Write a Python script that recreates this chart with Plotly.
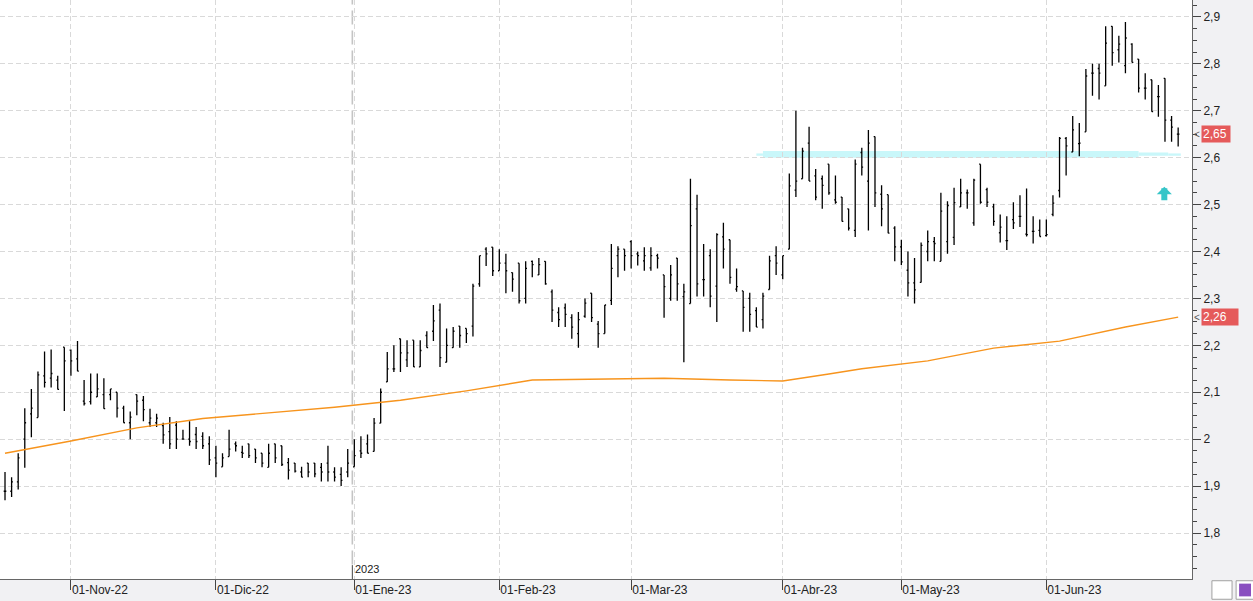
import pandas as pd
import plotly.graph_objects as go

# ---- categories (trading days) ----
holidays = ["2022-12-26", "2023-04-07", "2023-04-10", "2023-05-01"]
days = pd.bdate_range("2022-10-18", "2023-06-29")
days = [d.strftime("%Y-%m-%d") for d in days if d.strftime("%Y-%m-%d") not in holidays]

# ---- OHLC values ----
opens = [1.889,1.889,1.909,2.000,2.054,2.046,2.135,2.130,2.126,2.196,
         2.190,2.171,2.081,2.080,2.090,2.095,2.095,2.100,2.066,2.035,
         2.095,2.083,2.035,2.035,2.029,2.016,2.030,2.000,2.000,2.010,
         2.006,1.990,1.960,1.941,1.963,1.990,1.972,1.990,1.979,1.970,
         1.940,1.990,1.986,1.950,1.949,1.930,1.949,1.949,1.940,1.949,
         1.930,1.925,1.930,1.941,1.975,1.990,1.974,2.034,2.122,2.150,
         2.214,2.169,2.211,2.154,2.221,2.230,2.275,2.164,2.195,2.241,
         2.236,2.241,2.331,2.405,2.409,2.359,2.375,2.355,2.375,2.300,
         2.379,2.350,2.379,2.314,2.270,2.280,2.259,2.225,2.262,2.311,
         2.245,2.225,2.296,2.391,2.405,2.421,2.395,2.380,2.365,2.391,
         2.350,2.300,2.386,2.304,2.289,2.491,2.340,2.391,2.326,2.431,
         2.425,2.320,2.316,2.300,2.274,2.255,2.319,2.391,2.350,2.405,
         2.531,2.555,2.631,2.561,2.555,2.586,2.510,2.516,2.491,2.445,
         2.611,2.550,2.645,2.522,2.521,2.450,2.410,2.360,2.333,2.334,
         2.400,2.421,2.379,2.421,2.430,2.495,2.525,2.461,2.586,2.532,
         2.495,2.440,2.423,2.468,2.475,2.437,2.443,2.445,2.434,2.479,
         2.530,2.641,2.612,2.630,2.655,2.780,2.790,2.753,2.880,2.830,
         2.796,2.842,2.810,2.748,2.766,2.730,2.769,2.680,2.650]
highs = [1.930,1.919,1.970,2.066,2.107,2.144,2.187,2.191,2.135,2.196,
         2.191,2.209,2.126,2.140,2.140,2.130,2.107,2.100,2.071,2.059,
         2.095,2.092,2.065,2.054,2.035,2.047,2.038,2.020,2.038,2.026,
         2.015,2.006,1.986,1.970,2.020,1.995,1.986,1.990,1.979,1.970,
         1.990,1.990,1.986,1.960,1.949,1.941,1.949,1.949,1.949,1.986,
         1.940,1.940,1.979,2.000,2.006,2.010,2.045,2.108,2.186,2.200,
         2.214,2.211,2.211,2.211,2.230,2.286,2.289,2.236,2.239,2.241,
         2.236,2.331,2.391,2.409,2.409,2.405,2.395,2.355,2.375,2.379,
         2.381,2.386,2.379,2.319,2.281,2.289,2.266,2.271,2.300,2.311,
         2.252,2.286,2.416,2.411,2.405,2.424,2.400,2.409,2.409,2.395,
         2.350,2.371,2.386,2.331,2.555,2.521,2.416,2.405,2.439,2.461,
         2.425,2.364,2.316,2.312,2.281,2.312,2.391,2.411,2.391,2.566,
         2.700,2.621,2.666,2.576,2.562,2.586,2.562,2.516,2.491,2.596,
         2.621,2.659,2.645,2.541,2.521,2.454,2.425,2.400,2.386,2.419,
         2.445,2.431,2.525,2.507,2.536,2.555,2.532,2.555,2.586,2.536,
         2.502,2.479,2.475,2.505,2.520,2.534,2.475,2.468,2.468,2.520,
         2.644,2.644,2.689,2.674,2.789,2.800,2.800,2.880,2.880,2.860,
         2.889,2.844,2.810,2.780,2.766,2.755,2.769,2.689,2.664]
lows = [1.870,1.877,1.893,1.939,2.004,2.046,2.110,2.110,2.106,2.060,
        2.135,2.145,2.072,2.074,2.090,2.065,2.083,2.046,2.035,2.000,
        2.051,2.038,2.026,2.026,1.990,1.979,1.979,2.000,1.986,1.979,
        1.979,1.945,1.919,1.941,1.963,1.974,1.960,1.960,1.949,1.940,
        1.940,1.949,1.943,1.914,1.929,1.919,1.919,1.919,1.910,1.910,
        1.910,1.900,1.919,1.941,1.960,1.970,1.974,2.034,2.122,2.143,
        2.143,2.154,2.154,2.154,2.195,2.209,2.154,2.164,2.195,2.195,
        2.205,2.219,2.325,2.369,2.348,2.359,2.311,2.314,2.289,2.289,
        2.345,2.350,2.329,2.250,2.239,2.239,2.214,2.195,2.259,2.250,
        2.195,2.225,2.286,2.345,2.359,2.364,2.370,2.359,2.359,2.364,
        2.259,2.295,2.295,2.164,2.289,2.304,2.304,2.281,2.250,2.364,
        2.331,2.314,2.229,2.229,2.239,2.236,2.319,2.350,2.341,2.405,
        2.516,2.555,2.550,2.509,2.491,2.521,2.502,2.464,2.445,2.431,
        2.562,2.445,2.495,2.454,2.439,2.379,2.371,2.304,2.289,2.334,
        2.379,2.379,2.379,2.395,2.414,2.495,2.491,2.455,2.502,2.495,
        2.455,2.419,2.403,2.448,2.452,2.432,2.417,2.432,2.432,2.475,
        2.515,2.562,2.612,2.603,2.655,2.732,2.724,2.753,2.796,2.803,
        2.780,2.803,2.739,2.724,2.698,2.687,2.634,2.634,2.624]
closes = [1.889,1.909,1.960,2.035,2.066,2.137,2.121,2.140,2.106,2.167,
          2.167,2.145,2.076,2.100,2.107,2.065,2.107,2.066,2.035,2.047,
          2.081,2.063,2.045,2.045,2.009,1.990,2.000,2.000,1.995,1.995,
          1.986,1.956,1.949,1.960,1.979,1.986,1.970,1.965,1.960,1.949,
          1.970,1.960,1.946,1.934,1.932,1.919,1.930,1.926,1.930,1.930,
          1.919,1.912,1.949,1.965,1.970,1.970,2.034,2.100,2.150,2.150,
          2.184,2.184,2.154,2.189,2.195,2.252,2.174,2.200,2.230,2.221,
          2.225,2.326,2.391,2.395,2.359,2.375,2.359,2.341,2.295,2.364,
          2.372,2.372,2.331,2.275,2.255,2.266,2.239,2.255,2.290,2.259,
          2.225,2.286,2.364,2.405,2.391,2.391,2.391,2.391,2.391,2.386,
          2.325,2.350,2.331,2.314,2.455,2.331,2.340,2.305,2.436,2.405,
          2.345,2.325,2.281,2.266,2.239,2.305,2.380,2.375,2.391,2.540,
          2.550,2.614,2.550,2.516,2.541,2.525,2.505,2.464,2.450,2.586,
          2.580,2.631,2.525,2.491,2.439,2.410,2.378,2.333,2.318,2.413,
          2.421,2.417,2.486,2.498,2.504,2.525,2.525,2.552,2.505,2.505,
          2.464,2.452,2.423,2.461,2.475,2.436,2.443,2.432,2.436,2.503,
          2.641,2.625,2.659,2.631,2.774,2.780,2.780,2.844,2.824,2.842,
          2.855,2.803,2.748,2.748,2.698,2.730,2.680,2.665,2.650]

# ---- long moving average (sampled at bar indices) ----
ma_idx = [0, 10, 20, 30, 40, 50, 60, 70, 80, 90, 100, 110, 118, 125, 130, 140, 150, 160, 170, 178]
ma_vals = [1.970, 1.996, 2.024, 2.044, 2.056, 2.068, 2.083, 2.103, 2.126, 2.128,
           2.130, 2.126, 2.124, 2.139, 2.150, 2.167, 2.194, 2.209, 2.239, 2.260]

# ---- axis ticks ----
month_ticks = ["2022-11-01", "2022-12-01", "2023-01-02", "2023-02-01",
               "2023-03-01", "2023-04-03", "2023-05-02", "2023-06-01"]
month_labels = ["01-Nov-22", "01-Dic-22", "01-Ene-23", "01-Feb-23",
                "01-Mar-23", "01-Abr-23", "01-May-23", "01-Jun-23"]

last_price = 2.65
ma_last = 2.26
support_level = 2.607

FONT = "Liberation Sans, Arial, sans-serif"
GRID = "#d9d9d9"

fig = go.Figure()
fig.add_trace(go.Ohlc(
    x=days, open=opens, high=highs, low=lows, close=closes,
    increasing=dict(line=dict(color="black", width=1.3)),
    decreasing=dict(line=dict(color="black", width=1.3)),
    tickwidth=0.2, showlegend=False, hoverinfo="skip"))
fig.add_trace(go.Scatter(
    x=[days[i] for i in ma_idx], y=ma_vals, mode="lines",
    line=dict(color="#f7941d", width=1.4), showlegend=False, hoverinfo="skip"))

ymin, ymax = 1.702, 2.936

shapes = []
# support band
band = "#c9f7fa"
shapes.append(dict(type="rect", xref="x", yref="y", x0=114.0, x1=115.0,
                   y0=support_level - 0.003, y1=support_level + 0.002,
                   fillcolor=band, line=dict(width=0), layer="below"))
shapes.append(dict(type="rect", xref="x", yref="y", x0=115.0, x1=172.0,
                   y0=support_level - 0.007, y1=support_level + 0.007,
                   fillcolor=band, line=dict(width=0), layer="below"))
shapes.append(dict(type="rect", xref="x", yref="y", x0=172.0, x1=176.5,
                   y0=support_level - 0.003, y1=support_level + 0.004,
                   fillcolor=band, line=dict(width=0), layer="below"))
shapes.append(dict(type="rect", xref="x", yref="y", x0=176.5, x1=178.4,
                   y0=support_level - 0.003, y1=support_level + 0.002,
                   fillcolor=band, line=dict(width=0), layer="below"))
# year separator
jan_idx = days.index("2023-01-02")
shapes.append(dict(type="line", xref="x", yref="paper", x0=jan_idx - 0.3, x1=jan_idx - 0.3,
                   y0=0.025, y1=1, line=dict(color="#c4c4c4", width=1.6, dash="14px,6px"),
                   layer="below"))
shapes.append(dict(type="line", xref="x", yref="paper", x0=jan_idx - 0.3, x1=jan_idx - 0.3,
                   y0=0, y1=0.024, line=dict(color="#444", width=1)))
# bottom-right icons
shapes.append(dict(type="rect", xref="paper", yref="paper", x0=1.0167, x1=1.0336,
                   y0=-0.035, y1=-0.003, fillcolor="#ffffff", line=dict(color="#a0a0a0", width=1)))
shapes.append(dict(type="rect", xref="paper", yref="paper", x0=1.037, x1=1.0516,
                   y0=-0.035, y1=-0.003, fillcolor="#ffffff", line=dict(color="#a0a0a0", width=1)))
shapes.append(dict(type="rect", xref="paper", yref="paper", x0=1.0395, x1=1.0495,
                   y0=-0.030, y1=-0.008, fillcolor="#8a4fc0", line=dict(width=0)))

annotations = []
annotations.append(dict(text="2023", xref="x", yref="paper", x=jan_idx - 0.3, y=0.003,
                        xanchor="left", yanchor="bottom", showarrow=False, xshift=1,
                        font=dict(family=FONT, size=11, color="#222")))
for val, w in [(last_price, 26), (ma_last, 34)]:
    annotations.append(dict(text=f"{val:.2f}".replace(".", ","), xref="paper", yref="y",
                            x=1, y=val, xanchor="left", yanchor="middle", xshift=9,
                            showarrow=False, bgcolor="#e55a5a", width=w, align="left",
                            borderpad=1, font=dict(family=FONT, size=12, color="white")))
    annotations.append(dict(text="<", xref="paper", yref="y", x=1, y=val, xanchor="left",
                            yanchor="middle", xshift=0, showarrow=False,
                            font=dict(family=FONT, size=10, color="#555")))
# up arrow
annotations.append(dict(text="", xref="x", yref="y", x=175.9, y=2.538, showarrow=True,
                        ax=0, ay=15, arrowhead=1, arrowsize=0.42, arrowwidth=6,
                        arrowcolor="#36c5c8"))

fig.update_layout(
    width=1253, height=601, autosize=False,
    margin=dict(l=0, r=61, t=0, b=22),
    paper_bgcolor="#f1f1f3", plot_bgcolor="#ffffff",
    separators=", ",
    shapes=shapes, annotations=annotations,
    font=dict(family=FONT, size=12, color="#222"),
    xaxis=dict(type="category", range=[-0.76, 180.1], tickvals=month_ticks,
               ticktext=month_labels, ticks="outside", ticklen=10, tickcolor="#444",
               showgrid=True, gridcolor=GRID, griddash="5px,3px", gridwidth=1,
               showline=True, linecolor="#666", linewidth=1,
               ticklabelposition="outside right", rangeslider=dict(visible=False),
               tickfont=dict(family=FONT, size=12, color="#222"), zeroline=False),
    yaxis=dict(side="right", range=[ymin, ymax], tick0=1.7, dtick=0.1,
               ticks="outside", ticklen=8, tickcolor="#444",
               minor=dict(dtick=0.025, tick0=1.7, ticks="outside", ticklen=4,
                          tickcolor="#444", showgrid=False),
               showgrid=True, gridcolor=GRID, griddash="5px,3px", gridwidth=1,
               showline=True, linecolor="#666", linewidth=1, zeroline=False,
               tickfont=dict(family=FONT, size=12, color="#222")),
)

fig.write_html("out.html", config={"displayModeBar": False},
               post_script="document.body.style.margin='0';document.body.style.overflow='hidden';")
